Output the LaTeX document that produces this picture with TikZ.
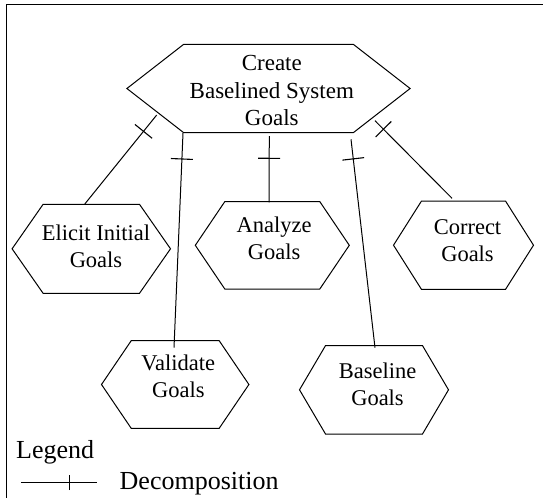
\documentclass[tikz,border=0pt]{standalone}
\usepackage{fontspec}
\setmainfont{Liberation Serif}
\usetikzlibrary{decorations.markings}

\tikzset{
  outline/.style={line width=1pt},
  frameline/.style={line width=1.3pt},
  goaltext/.style={align=center, inner sep=0pt, font=\fontsize{22.5}{27}\selectfont},
  legendtext/.style={anchor=base west, inner sep=0pt, font=\fontsize{26}{30}\selectfont},
  decomp/.style={line width=1pt, postaction={decorate},
    decoration={markings, mark=at position #1 with {\draw[line width=1.1pt] (0,-11pt) -- (0,11pt);}}},
  legendtick/.style={line width=1pt, postaction={decorate},
    decoration={markings, mark=at position #1 with {\draw[line width=1.1pt] (0,-7.5pt) -- (0,7.5pt);}}},
}

% elongated hexagon: centre x, centre y, half width of flat edges, half width to the points, half height
\newcommand{\goalhex}[5]{%
  \draw[outline] ({#1-#3},{#2-#5}) -- ({#1+#3},{#2-#5}) -- ({#1+#4},#2)
    -- ({#1+#3},{#2+#5}) -- ({#1-#3},{#2+#5}) -- ({#1-#4},#2) -- cycle;}

\begin{document}
\begin{tikzpicture}[x=1pt, y=-1pt]
\useasboundingbox (0,0) rectangle (543,498);

% frame (top and left edges)
\draw[frameline] (543,4.5) -- (6.2,4.5) -- (6.2,498);

% goal hexagons
\goalhex{268.5}{88.5}{84.8}{141.6}{44.2}
\node[goaltext, font=\fontsize{23}{27.5}\selectfont] (create) at (271.8,90.5) {Create\\Baselined System\\Goals};

\goalhex{91.3}{248.8}{48.2}{79.2}{44.5}
\node[goaltext] (elicit) at (96,246.7) {Elicit Initial\\Goals};

\goalhex{272.3}{245.3}{47.5}{77}{43.7}
\node[goaltext] (analyze) at (274.2,238.3) {Analyze\\Goals};

\goalhex{463.5}{245.2}{42}{70}{44.2}
\node[goaltext] (correct) at (467.5,241) {Correct\\Goals};

\goalhex{175.2}{384.5}{44}{73.7}{43.8}
\node[goaltext] (validate) at (178.3,376.7) {Validate\\Goals};

\goalhex{374}{389.8}{48.5}{74.5}{44.2}
\node[goaltext] (baseline) at (377.5,384) {Baseline\\Goals};

% connector end points
\coordinate (create-e) at (156.7,115);
\coordinate (create-v) at (183,133);
\coordinate (create-a) at (269.3,136);
\coordinate (create-b) at (351,139.3);
\coordinate (create-c) at (375,120.7);
\coordinate (elicit-top) at (84.8,204);
\coordinate (validate-top) at (174,347.7);
\coordinate (analyze-top) at (269,202.3);
\coordinate (baseline-top) at (375,347.7);
\coordinate (correct-top) at (452,198.3);

% decomposition links
\draw[decomp=21pt] (create-e) -- (elicit-top);
\draw[decomp=26pt] (create-v) -- (validate-top);
\draw[decomp=22.3pt] (create-a) -- (analyze-top);
\draw[decomp=19.7pt] (create-b) -- (baseline-top);
\draw[decomp=12pt] (create-c) -- (correct-top);

% legend
\node[legendtext] (legendtitle) at (16,458.3) {Legend};
\coordinate (legend-l) at (20.8,482.5);
\coordinate (legend-r) at (97,482.5);
\draw[legendtick=48.5pt] (legend-l) -- (legend-r);
\node[legendtext] (legenddecomp) at (119.5,489.3) {Decomposition};
\end{tikzpicture}
\end{document}
